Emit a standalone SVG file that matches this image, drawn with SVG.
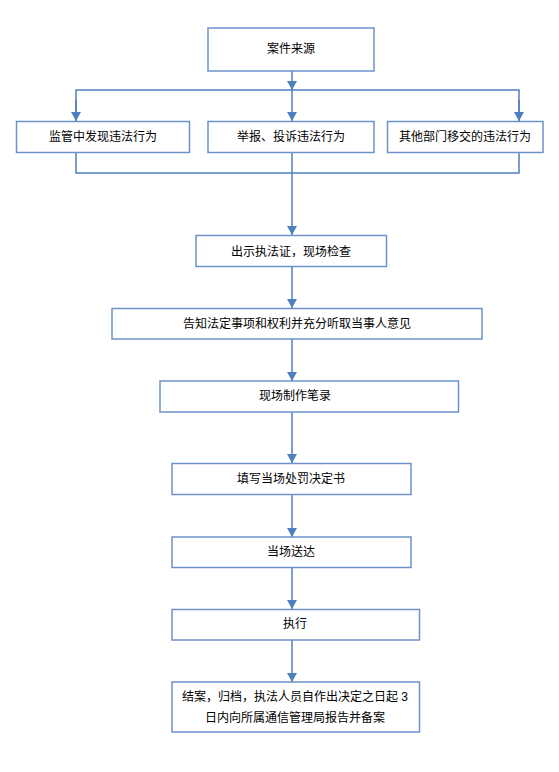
<svg xmlns="http://www.w3.org/2000/svg" width="559" height="772" viewBox="0 0 559 772">
<style>
.box{fill:#ffffff;stroke:#6b93c9;stroke-width:1.5}
.t{font-family:"Liberation Sans","Noto Sans CJK SC",sans-serif;font-size:12px;fill:#000000;text-anchor:middle}
.c{fill:none;stroke:#4f7fbf;stroke-width:1.5}
.a{marker-end:url(#ah)}
</style>
<defs>
<marker id="ah" markerUnits="userSpaceOnUse" markerWidth="10" markerHeight="10" refX="9" refY="5" orient="auto" viewBox="0 0 10 10">
<path d="M0,0 L9,5 L0,10 Z" fill="#4f7fbf"/>
</marker>
</defs>
<rect width="559" height="772" fill="#ffffff"/>
<g id="connectors">
<line class="c a" x1="292" y1="71" x2="292" y2="90"/>
<polyline class="c" points="76,121 76,90 519,90 519,121"/>
<line class="c a" x1="76" y1="100" x2="76" y2="121"/>
<line class="c a" x1="292" y1="90" x2="292" y2="121"/>
<line class="c a" x1="519" y1="100" x2="519" y2="121"/>
<polyline class="c" points="76,153 76,173 519,173 519,153"/>
<line class="c a" x1="292" y1="153" x2="292" y2="235"/>
<line class="c a" x1="292" y1="266" x2="292" y2="308"/>
<line class="c a" x1="292" y1="339" x2="292" y2="381"/>
<line class="c a" x1="292" y1="412" x2="292" y2="463"/>
<line class="c a" x1="292" y1="494" x2="292" y2="537"/>
<line class="c a" x1="292" y1="567" x2="292" y2="609"/>
<line class="c a" x1="292" y1="640" x2="292" y2="682"/>
</g>
<g id="n1"><rect class="box" x="208" y="28" width="166" height="43"/><text class="t" x="291" y="53">案件来源</text></g>
<g id="n2"><rect class="box" x="16.5" y="121.5" width="173" height="31"/><text class="t" x="103" y="141">监管中发现违法行为</text></g>
<g id="n3"><rect class="box" x="208" y="121.5" width="166" height="31"/><text class="t" x="291" y="141">举报、投诉违法行为</text></g>
<g id="n4"><rect class="box" x="387.5" y="121.5" width="155.5" height="31"/><text class="t" x="465" y="141">其他部门移交的违法行为</text></g>
<g id="n5"><rect class="box" x="196" y="235.5" width="190.5" height="31"/><text class="t" x="291" y="256">出示执法证，现场检查</text></g>
<g id="n6"><rect class="box" x="112" y="308.5" width="370" height="30.5"/><text class="t" x="297" y="328">告知法定事项和权利并充分听取当事人意见</text></g>
<g id="n7"><rect class="box" x="160" y="381" width="298.5" height="31"/><text class="t" x="295" y="400">现场制作笔录</text></g>
<g id="n8"><rect class="box" x="172" y="463.5" width="239" height="31"/><text class="t" x="291" y="483">填写当场处罚决定书</text></g>
<g id="n9"><rect class="box" x="172" y="537" width="239" height="30.5"/><text class="t" x="291" y="556">当场送达</text></g>
<g id="n10"><rect class="box" x="172" y="609.5" width="247.5" height="30.5"/><text class="t" x="295" y="628">执行</text></g>
<g id="n11"><rect class="box" x="172" y="682" width="247.5" height="50"/><text class="t" x="295" y="701">结案，归档，执法人员自作出决定之日起 3</text><text class="t" x="295" y="722">日内向所属通信管理局报告并备案</text></g>
</svg>
